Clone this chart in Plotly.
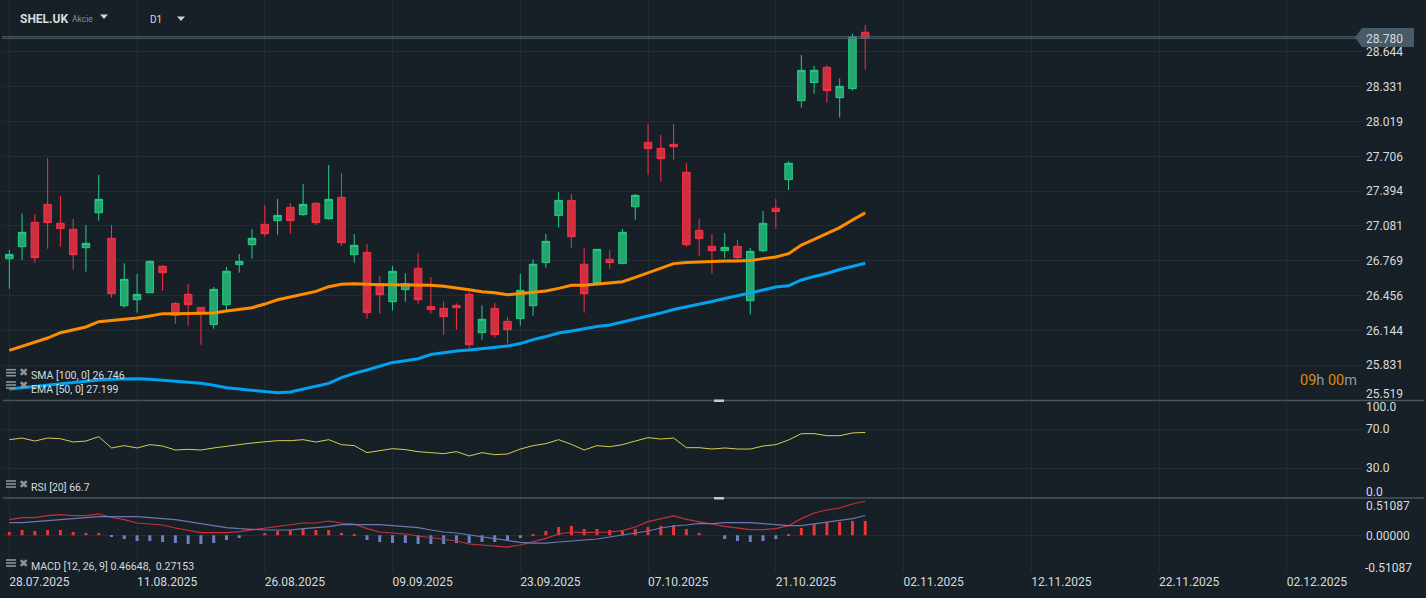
import plotly.graph_objects as go

W, H = 1426, 598

# ---------- data ----------
open_ = [26.787,26.895,27.114,27.275,27.105,27.051,26.886,27.200,26.970,26.365,26.419,26.482,26.719,26.386,26.467,26.350,26.195,26.374,26.734,26.913,
         27.096,27.129,27.248,27.183,27.284,27.147,27.338,26.823,26.844,26.563,26.401,26.509,26.701,26.359,26.341,26.368,26.467,26.123,26.341,26.225,
         26.249,26.365,26.752,27.174,27.311,26.737,26.572,26.782,26.743,27.254,27.832,27.778,27.814,27.563,27.042,26.898,26.859,26.898,26.410,26.859,
         27.240,27.497,28.206,28.368,28.506,28.233,28.314,28.820]
high = [26.865,27.194,27.189,27.688,27.350,27.144,27.090,27.539,27.090,26.746,26.650,26.775,26.731,26.398,26.560,26.350,26.533,26.713,26.829,27.054,
        27.269,27.323,27.287,27.458,27.296,27.628,27.557,27.009,26.919,26.632,26.722,26.656,26.838,26.623,26.404,26.386,26.488,26.368,26.389,26.264,
        26.650,26.781,27.009,27.386,27.368,26.883,26.871,26.865,27.054,27.368,27.997,27.898,27.997,27.647,27.144,27.009,27.018,26.955,26.883,27.216,
        27.323,27.665,28.616,28.518,28.527,28.407,28.805,28.886]
low = [26.518,26.775,26.752,26.877,26.895,26.689,26.671,27.129,26.437,26.347,26.303,26.482,26.500,26.204,26.186,26.015,26.159,26.327,26.662,26.787,
       26.985,27.003,27.012,27.174,27.090,27.138,26.904,26.752,26.249,26.294,26.321,26.401,26.383,26.294,26.105,26.150,25.982,26.060,26.078,26.027,
       26.186,26.276,26.707,27.066,26.886,26.303,26.572,26.698,26.743,27.138,27.542,27.479,27.676,26.895,26.815,26.653,26.794,26.770,26.285,26.847,
       27.057,27.404,28.143,28.269,28.188,28.054,28.296,28.485]
close = [26.826,27.024,26.796,27.111,27.057,26.823,26.925,27.320,26.473,26.602,26.467,26.763,26.662,26.279,26.374,26.297,26.512,26.674,26.763,26.970,
         27.012,27.176,27.129,27.275,27.111,27.320,26.931,26.907,26.303,26.464,26.674,26.563,26.419,26.330,26.267,26.347,26.015,26.243,26.105,26.150,
         26.503,26.737,26.943,27.311,26.985,26.473,26.871,26.752,27.024,27.356,27.775,27.685,27.793,26.913,26.967,26.859,26.889,26.797,26.853,27.105,
         27.210,27.644,28.479,28.479,28.296,28.335,28.778,28.766]
ema50 = [25.964,26.003,26.039,26.075,26.123,26.150,26.174,26.222,26.231,26.246,26.255,26.273,26.294,26.294,26.294,26.294,26.300,26.318,26.333,26.347,
         26.380,26.419,26.443,26.467,26.494,26.536,26.557,26.563,26.557,26.554,26.554,26.554,26.554,26.548,26.539,26.527,26.509,26.491,26.482,26.464,
         26.473,26.482,26.497,26.521,26.548,26.548,26.557,26.566,26.581,26.620,26.662,26.701,26.743,26.752,26.758,26.758,26.767,26.767,26.770,26.788,
         26.803,26.832,26.910,26.961,27.012,27.066,27.135,27.199]
sma100 = [25.617,25.629,25.641,25.653,25.665,25.677,25.689,25.698,25.704,25.710,25.710,25.704,25.695,25.686,25.677,25.668,25.650,25.629,25.617,25.605,
          25.593,25.584,25.590,25.614,25.638,25.668,25.719,25.758,25.788,25.823,25.856,25.871,25.889,25.927,25.945,25.958,25.967,25.981,25.990,26.003,
          26.025,26.061,26.088,26.120,26.138,26.160,26.178,26.192,26.219,26.241,26.268,26.299,26.331,26.353,26.376,26.403,26.430,26.452,26.479,26.506,
          26.533,26.544,26.596,26.627,26.654,26.690,26.717,26.746]
rsi20 = [59.3,61.0,57.9,61.0,60.3,56.9,57.9,62.4,50.8,53.2,50.8,54.2,52.8,48.7,49.4,48.7,50.8,52.8,54.2,55.9,
         57.3,58.3,58.3,59.3,56.9,59.3,54.2,53.2,46.0,48.0,50.1,49.1,47.0,46.0,45.0,47.0,42.6,46.0,43.9,44.6,
         49.7,53.2,55.2,59.3,54.5,48.7,53.2,52.1,54.2,57.9,61.4,60.0,61.0,51.1,51.1,49.7,50.8,49.7,49.7,52.8,
         54.2,59.0,65.5,65.5,63.4,63.4,66.2,66.7]
macd_main = [.2146,.2419,.2419,.2693,.2830,.2693,.2693,.2922,.2465,.2146,.1689,.1552,.1415,.1004,.0730,.0365,.0365,.0365,.0502,.0730,
             .1004,.1278,.1461,.1689,.1689,.1963,.1689,.1552,.0913,.0457,.0320,.0183,-.0091,-.0320,-.0639,-.0776,-.1187,-.1324,-.1461,-.1598,
             -.1324,-.0913,-.0411,.0183,.0457,.0365,.0365,.0457,.0639,.1141,.1872,.2283,.2648,.2191,.1826,.1552,.1233,.1004,.0776,.0776,
             .0913,.1324,.2283,.3059,.3469,.3743,.4291,.46648]
macd_signal = [.1735,.1735,.1872,.2009,.2146,.2283,.2419,.2556,.2556,.2556,.2556,.2419,.2283,.2146,.1872,.1598,.1324,.1050,.0913,.0776,
               .0730,.0730,.0730,.0913,.1050,.1187,.1461,.1461,.1461,.1461,.1324,.1187,.1050,.0730,.0457,.0320,.0046,-.0228,-.0502,-.0776,
               -.0959,-.1050,-.1050,-.0913,-.0776,-.0639,-.0502,-.0228,.0046,.0320,.0593,.1004,.1278,.1415,.1643,.1598,.1735,.1735,.1735,.1598,
               .1461,.1324,.1324,.1552,.1735,.2009,.2283,.27153]
macd_hist = [.046,.073,.059,.073,.073,.046,.032,.032,-.018,-.050,-.078,-.078,-.091,-.105,-.119,-.119,-.105,-.064,-.037,0,
             .032,.059,.073,.087,.073,.073,.032,.005,-.064,-.091,-.105,-.105,-.119,-.119,-.119,-.105,-.105,-.091,-.091,-.078,
             -.037,.018,.059,.114,.128,.087,.087,.073,.073,.087,.114,.128,.142,.087,.032,0,-.050,-.078,-.091,-.078,
             -.050,.005,.100,.155,.183,.183,.195,.195]
bar_index = list(range(len(close)))

date_tick_pos = [0,10,20,30,40,50,60,70,80,90,100]
date_tick_labels = ["28.07.2025","11.08.2025","26.08.2025","09.09.2025","23.09.2025","07.10.2025",
                    "21.10.2025","02.11.2025","12.11.2025","22.11.2025","02.12.2025"]
price_ticks = [28.644,28.331,28.019,27.706,27.394,27.081,26.769,26.456,26.144,25.831,25.519]
rsi_ticks = [100.0,70.0,30.0,0.0]
macd_ticks = [0.51087,0.0,-0.51087]
last_price = 28.780
second_price = 28.766

# ---------- style ----------
BG = "#172027"; GRID = "#212c33"; TXT = "#d9dbdd"; SEP = "#46545e"; ICON = "#8f9396"
FONT = "Roboto"
UP_LINE, UP_FILL = "#22cf85", "#24a56f"
DN_LINE, DN_FILL = "#fb3045", "#cf2f40"

def px(x): return x / W
def py(y): return 1 - y / H

fig = go.Figure()
fig.add_trace(go.Candlestick(
    x=bar_index, open=open_, high=high, low=low, close=close, xaxis="x", yaxis="y",
    increasing=dict(line=dict(color=UP_LINE, width=1), fillcolor=UP_FILL),
    decreasing=dict(line=dict(color=DN_LINE, width=1), fillcolor=DN_FILL),
    whiskerwidth=0, showlegend=False))
fig.add_trace(go.Scatter(x=bar_index, y=ema50, mode="lines", line=dict(color="#ff8c00", width=3), showlegend=False))
fig.add_trace(go.Scatter(x=bar_index, y=sma100, mode="lines", line=dict(color="#00a3f0", width=3), showlegend=False))
fig.add_trace(go.Scatter(x=bar_index, y=rsi20, yaxis="y2", mode="lines", line=dict(color="#d6cd55", width=1), showlegend=False))
fig.add_trace(go.Bar(x=bar_index, y=macd_hist, yaxis="y3", width=0.235,
                     marker=dict(color=["#ee3333" if v >= 0 else "#7080c8" for v in macd_hist], line=dict(width=0)),
                     showlegend=False))
fig.add_trace(go.Scatter(x=bar_index, y=macd_main, yaxis="y3", mode="lines", line=dict(color="#c92f38", width=1.2), showlegend=False))
fig.add_trace(go.Scatter(x=bar_index, y=macd_signal, yaxis="y3", mode="lines", line=dict(color="#6a78b4", width=1.2), showlegend=False))

axis_common = dict(side="right", anchor="x", showgrid=True, gridcolor=GRID, gridwidth=1, zeroline=False,
                   showline=False, ticks="", tickmode="array", ticklabelstandoff=2,
                   tickfont=dict(family=FONT, size=12, color=TXT))
x0_i, per_bar = 9.3, 12.775

shapes = [
    dict(type="rect", xref="paper", yref="paper", x0=0, x1=1, y0=py(18), y1=1, layer="between",
         fillcolor=BG, line_width=0),
    dict(type="rect", xref="paper", yref="paper", x0=px(125), x1=px(200), y0=py(32), y1=1, layer="between",
         fillcolor=BG, line_width=0),
    dict(type="line", xref="paper", yref="y", x0=px(2), x1=px(1356), y0=last_price, y1=last_price,
         line=dict(color="#4f626e", width=1)),
    dict(type="line", xref="paper", yref="y", x0=px(2), x1=px(1356), y0=second_price, y1=second_price,
         line=dict(color="#4f626e", width=1)),
    dict(type="path", xref="paper", yref="paper", fillcolor="#485b67", line_width=0,
         path=f"M {px(1355)} {py(37.5)} L {px(1362)} {py(28)} L {px(1414)} {py(28)} L {px(1414)} {py(47)} L {px(1362)} {py(47)} Z"),
    dict(type="line", xref="paper", yref="paper", x0=px(3), x1=px(1424), y0=py(400.5), y1=py(400.5),
         line=dict(color=SEP, width=1.4)),
    dict(type="line", xref="paper", yref="paper", x0=px(3), x1=px(1424), y0=py(498), y1=py(498),
         line=dict(color=SEP, width=1.4)),
    dict(type="rect", xref="paper", yref="paper", x0=px(714), x1=px(724), y0=py(402), y1=py(399.5),
         fillcolor="#c8c8c8", line_width=0),
    dict(type="rect", xref="paper", yref="paper", x0=px(714), x1=px(724), y0=py(499.5), y1=py(497),
         fillcolor="#c8c8c8", line_width=0),
]
for cx, cy in [(104, 16.5), (181, 18.5)]:
    shapes.append(dict(type="path", xref="paper", yref="paper", fillcolor="#d0d2d4", line_width=0,
                       path=f"M {px(cx-4)} {py(cy-2)} L {px(cx+4)} {py(cy-2)} L {px(cx)} {py(cy+2.5)} Z"))
for iy in [372.7, 385, 484, 563]:
    for dy in (-3, 0, 3):
        shapes.append(dict(type="line", xref="paper", yref="paper", x0=px(6), x1=px(16), y0=py(iy+dy), y1=py(iy+dy),
                           line=dict(color=ICON, width=1.6)))

def note(text, x, y, size=12, color=TXT, anchor="left", **kw):
    return dict(text=text, xref="paper", yref="paper", x=px(x), y=py(y), xanchor=anchor, yanchor="middle",
                showarrow=False, font=dict(family=FONT, size=size, color=color), align="left",
                borderpad=0, **kw)

annotations = [
    note("<b>SHEL.UK</b>", 19, 18.5, size=12),
    note("Akcie", 71, 19, size=8.5, color="#80929c"),
    note("D1", 149, 20, size=10),
    note(f"{last_price:.3f}", 1365, 38.5, size=12),
    note(f"{price_ticks[-1]:.3f}", 1365, 394.5),
    note(f"{rsi_ticks[0]:.1f}", 1365, 406.5),
    note(f"{rsi_ticks[-1]:.1f}", 1365, 492.5),
    note(f"{macd_ticks[0]:.5f}", 1365, 505.5),
    note(f"{macd_ticks[-1]:.5f}", 1364, 568),
    note('<span style="color:#dd8a12">09</span>h <span style="color:#dd8a12">00</span>m', 1299, 380, size=14.5, color="#8f9a9f"),
    note("SMA [100, 0] 26.746", 30, 375.5, size=10.5),
    note("EMA [50, 0] 27.199", 30, 389.5, size=10.5),
    note("RSI [20] 66.7", 30, 487, size=10.5),
    note("MACD [12, 26, 9] 0.46648,  0.27153", 30, 566.5, size=10.5),
]
for iy in [372.7, 385, 484, 563]:
    annotations.append(note("✖", 18, iy, size=11, color=ICON))

fig.update_layout(
    width=W, height=H, margin=dict(l=0, r=0, t=0, b=0), autosize=False,
    paper_bgcolor=BG, plot_bgcolor=BG, boxgap=0.16, boxgroupgap=0.3, barmode="overlay", hovermode=False,
    xaxis=dict(domain=[px(2), px(1363)], range=[(2 - x0_i) / per_bar, (1363 - x0_i) / per_bar],
               anchor="y3", showgrid=True, gridcolor=GRID, gridwidth=1, zeroline=False, showline=False, ticks="",
               rangeslider=dict(visible=False), tickmode="array", tickvals=date_tick_pos, ticktext=date_tick_labels,
               ticklabelshift=30, ticklabeloverflow="allow",
               tickfont=dict(family=FONT, size=12, color=TXT)),
    yaxis=dict(domain=[py(400.5), 1], range=[25.514, 29.110], tickvals=price_ticks,
               ticktext=[f"{v:.3f}" for v in price_ticks[:-1]] + [""], **axis_common),
    yaxis2=dict(domain=[py(497.5), py(400)], range=[0, 100], tickvals=rsi_ticks,
                ticktext=["", "70.0", "30.0", ""], **axis_common),
    yaxis3=dict(domain=[py(572.7), py(498)], range=[-0.51087, 0.51087], tickvals=macd_ticks,
                ticktext=["", "0.00000", ""], **axis_common),
    shapes=shapes, annotations=annotations,
)

fig.write_html("out.html", post_script="document.body.style.margin='0';document.body.style.background='%s';" % BG,
               config={"displayModeBar": False})
